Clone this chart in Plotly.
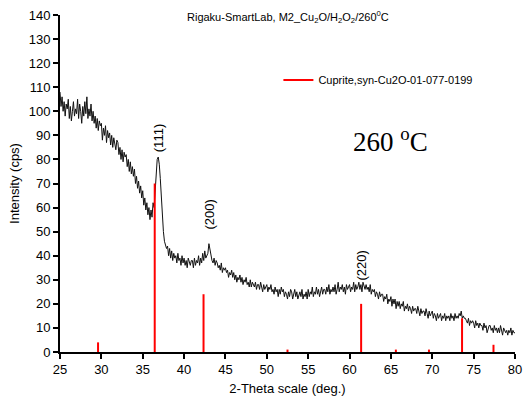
import plotly.graph_objects as go

# 2-theta grid (deg), regular 0.125 step scan
two_theta = [25 + 0.125 * i for i in range(441)]
intensity = [
    108, 102, 106, 100, 104, 98, 103, 101,
    105, 97, 102, 96, 100, 104, 98, 101,
    99, 105, 97, 103, 100, 95, 102, 98,
    104, 99, 106, 97, 101, 98, 103, 96,
    100, 95, 98, 93, 97, 92, 96, 94,
    95, 88, 93, 90, 94, 87, 92, 89,
    91, 86, 90, 85, 89, 87, 84, 88,
    87, 82, 85, 80, 84, 79, 83, 81,
    82, 77, 80, 75, 79, 74, 77, 73,
    76, 70, 73, 68, 71, 66, 69, 64,
    67, 61, 64, 59, 62, 57, 60, 55,
    59, 56, 62, 60, 68, 74, 80, 81,
    78, 72, 64, 56, 50, 46, 44, 43,
    44, 40, 43, 39, 42, 38, 41, 39,
    40, 37, 41, 38, 39, 36, 40, 37,
    39, 36, 38, 35, 39, 37, 36, 38,
    38, 35, 39, 36, 38, 37, 40, 36,
    39, 37, 41, 38, 42, 39, 40, 41,
    45, 42, 40, 38, 37, 39, 36, 38,
    37, 35, 36, 34, 37, 33, 35, 34,
    35, 33, 34, 31, 33, 32, 34, 31,
    33, 30, 32, 29, 31, 30, 32, 29,
    31, 28, 30, 29, 31, 28, 29, 27,
    30, 27, 29, 28, 27, 29, 26, 28,
    28, 26, 29, 27, 25, 28, 26, 27,
    28, 25, 27, 26, 28, 25, 26, 24,
    27, 25, 26, 23, 26, 24, 27, 25,
    26, 23, 25, 24, 22, 25, 23, 26,
    25, 22, 24, 26, 23, 25, 22, 24,
    25, 23, 26, 22, 24, 23, 25, 22,
    26, 23, 25, 24, 27, 23, 25, 24,
    27, 24, 26, 23, 25, 27, 24, 26,
    26, 24, 27, 25, 28, 24, 26, 25,
    27, 25, 28, 24, 26, 29, 25, 27,
    26, 28, 25, 27, 24, 28, 26, 27,
    28, 25, 27, 26, 29, 25, 28, 26,
    27, 29, 26, 28, 25, 29, 27, 26,
    28, 26, 27, 25, 28, 24, 26, 25,
    26, 23, 25, 24, 22, 25, 23, 24,
    24, 21, 23, 22, 24, 20, 22, 21,
    23, 19, 22, 20, 22, 18, 21, 19,
    21, 18, 20, 19, 21, 17, 19, 18,
    20, 17, 19, 18, 16, 19, 17, 18,
    18, 16, 19, 17, 15, 18, 16, 17,
    17, 15, 18, 16, 14, 17, 15, 16,
    17, 14, 16, 15, 13, 16, 14, 15,
    16, 13, 15, 14, 16, 13, 15, 14,
    15, 13, 16, 14, 15, 13, 16, 14,
    15, 14, 16, 15, 17, 14, 15, 14,
    14, 13, 12, 14, 11, 13, 12, 13,
    12, 10, 13, 11, 12, 10, 12, 11,
    11, 9, 12, 10, 11, 8, 10, 11,
    11, 9, 10, 8, 11, 9, 10, 8,
    10, 8, 11, 9, 7, 10, 9, 8,
    9, 7, 9, 8, 10, 7, 9, 8,
    8,
]

# Reference pattern (Cuprite, syn - Cu2O 01-077-0199)
ref_pos = [29.6, 36.45, 42.35, 52.5, 61.4, 65.6, 69.6, 73.6, 77.4]
ref_int = [4, 70, 24, 1, 20, 1, 1, 14, 3]

peak_labels = ["(111)", "(200)", "(220)"]
peak_label_x = [36.9, 43.1, 61.4]
peak_label_y = [89, 57, 36]

title_text = "Rigaku-SmartLab, M2_Cu<sub>2</sub>O/H<sub>2</sub>O<sub>2</sub>/260<sup>0</sup>C"

stick_x, stick_y = [], []
for p, h in zip(ref_pos, ref_int):
    stick_x += [p, p, None]
    stick_y += [0, h, None]

fig = go.Figure()
fig.add_trace(go.Scatter(
    x=two_theta, y=intensity, mode="lines",
    line=dict(color="#111111", width=1),
    showlegend=False,
))
fig.add_trace(go.Scatter(
    x=stick_x, y=stick_y, mode="lines",
    line=dict(color="#ff0000", width=2),
    name="Cuprite,syn-Cu2O-01-077-0199",
))

for t, x, y in zip(peak_labels, peak_label_x, peak_label_y):
    fig.add_annotation(x=x, y=y, text=t, textangle=-90, showarrow=False,
                       font=dict(family="Arial, Liberation Sans", size=13, color="black"))

fig.add_annotation(x=65, y=88, text="260 <sup>o</sup>C", showarrow=False,
                   font=dict(family="Times New Roman, Liberation Serif", size=27, color="black"))

fig.add_annotation(xref="paper", yref="paper", x=0.5, y=0.995, yanchor="middle",
                   text=title_text, showarrow=False,
                   font=dict(family="Arial, Liberation Sans", size=11, color="black"))

fig.update_layout(
    width=525, height=410,
    margin=dict(l=60, r=10, t=15, b=58, autoexpand=False),
    plot_bgcolor="white", paper_bgcolor="white",
    font=dict(family="Arial, Liberation Sans", size=13, color="black"),
    legend=dict(x=0.48, y=0.807, xanchor="left", yanchor="middle",
                font=dict(size=11), bgcolor="rgba(0,0,0,0)"),
    xaxis=dict(
        range=[25, 80], tickmode="linear", tick0=25, dtick=5,
        showline=True, linecolor="black", linewidth=1.5,
        ticks="outside", ticklen=5, tickcolor="black", tickwidth=1.5,
        showgrid=False, zeroline=False, automargin=False,
        title=dict(text="2-Theta scale (deg.)", font=dict(size=13), standoff=8),
    ),
    yaxis=dict(
        range=[0, 140], tickmode="linear", tick0=0, dtick=10,
        showline=True, linecolor="black", linewidth=2,
        ticks="outside", ticklen=5, tickcolor="black", tickwidth=1.5,
        showgrid=False, zeroline=False, automargin=False,
        title=dict(text="Intensity (cps)", font=dict(size=13), standoff=6),
    ),
)

# remove the default page margin so the figure sits at the window's corner
fig.write_html(
    "out.html",
    config={"displayModeBar": False},
    post_script="document.body.style.margin='0';document.documentElement.style.overflow='hidden';",
)
